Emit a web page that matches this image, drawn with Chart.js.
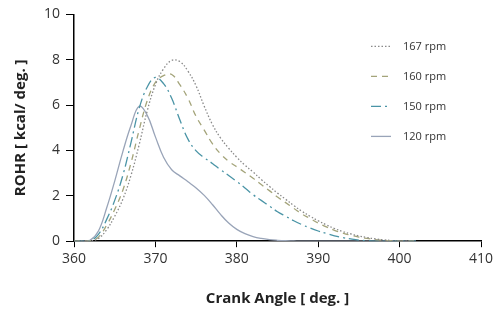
<!DOCTYPE html>
<html>
<head>
<meta charset="utf-8">
<script src="https://cdn.jsdelivr.net/npm/chart.js@4"></script>
<style>
  html, body { margin: 0; padding: 0; background: #fff; }
  #wrap { width: 501px; height: 313px; }
</style>
</head>
<body>
<div id="wrap"><canvas id="rohr" width="501" height="313"></canvas></div>
<script>
// crank angle samples (deg) and ROHR values (kcal/deg)
var angles = [360, 361, 362, 363, 364, 365, 366, 367, 368, 369, 370, 371, 372, 373, 374, 375, 376, 377, 378, 379,
  380, 381, 382, 383, 384, 385, 386, 387, 388, 389, 390, 391, 392, 393, 394, 395, 396, 397, 398, 399, 400, 401, 402];

var rpm167 = [0, 0, 0.01, 0.12, 0.5, 1.1, 1.85, 2.9, 4.25, 5.75, 6.9, 7.6, 7.97, 7.92, 7.5, 6.85, 5.95, 5.15, 4.55, 4.1,
  3.7, 3.35, 3.05, 2.72, 2.42, 2.12, 1.85, 1.57, 1.32, 1.1, 0.9, 0.72, 0.56, 0.43, 0.32, 0.23, 0.16, 0.1, 0.06, 0.03, 0.01, 0, 0];
var rpm160 = [0, 0, 0.01, 0.18, 0.7, 1.4, 2.25, 3.45, 4.9, 6.2, 7.0, 7.3, 7.35, 6.9, 6.3, 5.5, 4.9, 4.3, 3.85, 3.52,
  3.28, 3.03, 2.78, 2.5, 2.23, 1.95, 1.7, 1.45, 1.2, 1.0, 0.8, 0.63, 0.48, 0.36, 0.26, 0.18, 0.12, 0.07, 0.04, 0.02, 0, 0, 0];
var rpm150 = [0, 0, 0.02, 0.3, 0.95, 1.8, 2.9, 4.35, 5.85, 6.8, 7.22, 6.95, 6.3, 5.35, 4.5, 3.98, 3.68, 3.43, 3.15, 2.9,
  2.63, 2.35, 2.05, 1.8, 1.55, 1.3, 1.1, 0.9, 0.73, 0.58, 0.45, 0.34, 0.24, 0.16, 0.1, 0.05, 0.02, 0, 0, 0, 0, 0, 0];
var rpm120 = [0, 0, 0.05, 0.45, 1.45, 2.65, 3.95, 5.1, 5.95, 5.55, 4.6, 3.7, 3.15, 2.88, 2.62, 2.35, 2.02, 1.62, 1.18, 0.8,
  0.52, 0.33, 0.2, 0.12, 0.07, 0.04, 0.02, 0.01, 0, 0, 0, 0, 0, 0, 0, 0, 0, 0, 0, 0, 0, 0, 0];

var seriesLabels = ['167 rpm', '160 rpm', '150 rpm', '120 rpm'];
var xTicks = [360, 370, 380, 390, 400, 410];
var yTicks = [0, 2, 4, 6, 8, 10];

function points(vals) {
  return angles.map(function (a, i) { return { x: a, y: vals[i] }; });
}

var FONT = "'Open Sans', sans-serif";

/* legend drawn inside the plot, stacked on the right */
var insideLegend = {
  id: 'insideLegend',
  afterDraw: function (chart) {
    var ctx = chart.ctx;
    var ca = chart.chartArea;
    ctx.save();
    chart.data.datasets.forEach(function (ds, i) {
      var y = ca.top + 32 + i * 30;
      var x0 = ca.right - 110;
      ctx.strokeStyle = ds.borderColor;
      ctx.lineWidth = ds.borderWidth;
      ctx.setLineDash(ds.borderDash || []);
      ctx.beginPath();
      ctx.moveTo(x0, y);
      ctx.lineTo(x0 + 20, y);
      ctx.stroke();
      ctx.setLineDash([]);
      ctx.fillStyle = '#333';
      ctx.font = '11px ' + FONT;
      ctx.textBaseline = 'middle';
      ctx.fillText(ds.label, x0 + 32, y);
    });
    ctx.restore();
  }
};

document.addEventListener('DOMContentLoaded', function () {
  var line = function (label, vals, color, dash) {
    return { label: label, data: points(vals), borderColor: color, borderDash: dash, borderWidth: 1.3,
      pointRadius: 0, tension: 0.4, fill: false };
  };

  new Chart(document.getElementById('rohr').getContext('2d'), {
    type: 'line',
    data: {
      datasets: [
        line(seriesLabels[0], rpm167, '#8a8a8a', [1.5, 2]),
        line(seriesLabels[1], rpm160, '#a4a47a', [6, 5]),
        line(seriesLabels[2], rpm150, '#4a94a6', [10, 4, 2, 4]),
        line(seriesLabels[3], rpm120, '#99a4b8', [])
      ]
    },
    options: {
      responsive: false,
      animation: false,
      layout: { padding: { top: 8, right: 20, bottom: 5, left: 12 } },
      plugins: { legend: { display: false }, tooltip: { enabled: false } },
      scales: {
        x: {
          type: 'linear', min: 360, max: 410,
          afterBuildTicks: function (ax) { ax.ticks = xTicks.map(function (v) { return { value: v }; }); },
          grid: { drawOnChartArea: false, drawTicks: true, tickLength: 6, color: '#000' },
          border: { color: '#000', width: 1.5 },
          ticks: { color: '#333', font: { family: FONT, size: 14 }, padding: 3, maxRotation: 0 },
          title: { display: true, text: 'Crank Angle [ deg. ]', color: '#222',
            font: { family: FONT, size: 15, weight: 'bold' }, padding: { top: 20, bottom: 0 } }
        },
        y: {
          min: 0, max: 10,
          afterBuildTicks: function (ax) { ax.ticks = yTicks.map(function (v) { return { value: v }; }); },
          grid: { drawOnChartArea: false, drawTicks: true, tickLength: 8, color: '#000' },
          border: { color: '#000', width: 1.5 },
          ticks: { color: '#333', font: { family: FONT, size: 14 }, padding: 6 },
          title: { display: true, text: 'ROHR [ kcal/ deg. ]', color: '#222',
            font: { family: FONT, size: 15, weight: 'bold' }, padding: { top: 0, bottom: 8 } }
        }
      }
    },
    plugins: [insideLegend]
  });
});
</script>
</body>
</html>
